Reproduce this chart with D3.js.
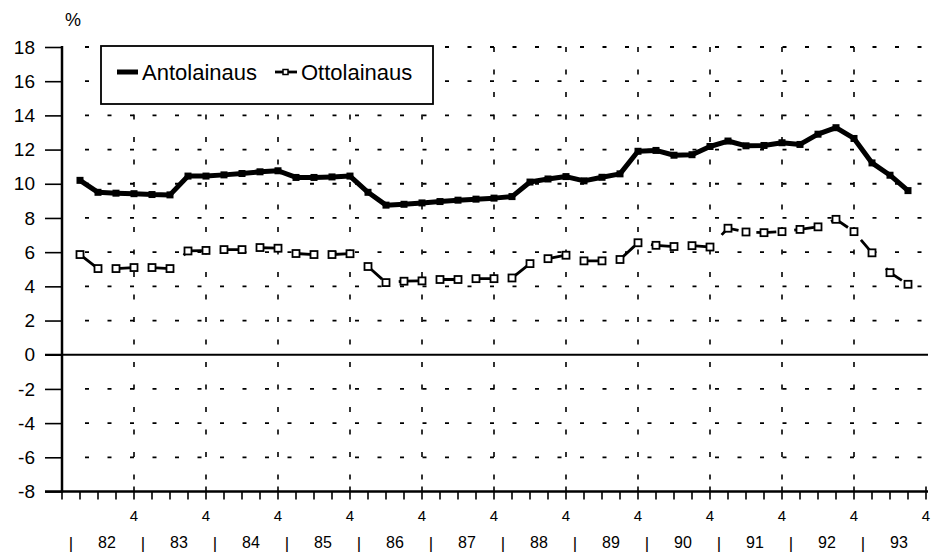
<!DOCTYPE html>
<html>
<head>
<meta charset="utf-8">
<script src="https://cdn.jsdelivr.net/npm/d3@7"></script>
<style>
  body { margin: 0; background: #fff; }
  svg { display: block; }
  text { font-family: "Liberation Sans", Arial, Helvetica, sans-serif; fill: #000; }
</style>
</head>
<body>
<div id="chart"></div>
<script>
// Quarterly data 1982 Q1 .. 1993 Q3
const years = ['82', '83', '84', '85', '86', '87', '88', '89', '90', '91', '92', '93'];
const antolainaus = [
  10.2, 9.5, 9.45, 9.42,
  9.37, 9.35, 10.45, 10.45,
  10.52, 10.6, 10.7, 10.76,
  10.37, 10.37, 10.4, 10.45,
  9.5, 8.75, 8.8, 8.88,
  8.96, 9.04, 9.1, 9.16,
  9.25, 10.1, 10.28, 10.42,
  10.17, 10.38, 10.58, 11.9,
  11.95, 11.67, 11.7, 12.18,
  12.5, 12.22, 12.24, 12.4,
  12.3, 12.9, 13.28, 12.65,
  11.22, 10.5, 9.6
];
const ottolainaus = [
  5.86, 5.04, 5.04, 5.1,
  5.1, 5.04, 6.07, 6.1,
  6.15, 6.15, 6.27, 6.23,
  5.92, 5.86, 5.86, 5.91,
  5.16, 4.22, 4.3, 4.32,
  4.4, 4.4, 4.45, 4.45,
  4.49, 5.33, 5.62, 5.82,
  5.49, 5.49, 5.57, 6.55,
  6.4, 6.33, 6.38, 6.3,
  7.4, 7.18, 7.14, 7.2,
  7.33, 7.48, 7.92, 7.2,
  5.96, 4.8, 4.12
];
const yTicks = [18, 16, 14, 12, 10, 8, 6, 4, 2, 0, -2, -4, -6, -8];
const gridValues = [18, 16, 14, 12, 10, 8, 6, 4, 2, -2, -4, -6];
const quarterLabel = '4';

const W = 934, H = 555;
const svg = d3.select('#chart').append('svg')
  .attr('width', W)
  .attr('height', H);

const nQuarters = years.length * 4;
const x = d3.scaleLinear().domain([0, nQuarters]).range([62, 926]);
const y = d3.scaleLinear().domain([-8, 18]).range([491.5, 47]);

// Dotted grid
svg.append('g').selectAll('line')
  .data(gridValues)
  .enter()
  .append('line')
  .attr('x1', 85).attr('x2', 928)
  .attr('y1', d => y(d)).attr('y2', d => y(d))
  .attr('stroke', '#000')
  .attr('stroke-width', 1.8)
  .attr('stroke-dasharray', '4 18.5');

svg.append('g').selectAll('line')
  .data(d3.range(1, years.length))
  .enter()
  .append('line')
  .attr('x1', d => x(d * 4)).attr('x2', d => x(d * 4))
  .attr('y1', y(18)).attr('y2', y(-8))
  .attr('stroke', '#000')
  .attr('stroke-width', 1.6)
  .attr('stroke-dasharray', '5 17.5');

// Zero line and bottom axis
svg.append('line')
  .attr('x1', 45).attr('x2', 928)
  .attr('y1', y(0)).attr('y2', y(0))
  .attr('stroke', '#000').attr('stroke-width', 2);

svg.append('line')
  .attr('x1', 45).attr('x2', 928)
  .attr('y1', y(-8)).attr('y2', y(-8))
  .attr('stroke', '#000').attr('stroke-width', 2.5);

// Y axis
const yAxis = d3.axisLeft(y)
  .tickValues(yTicks)
  .tickSize(17)
  .tickPadding(10)
  .tickFormat(d => String(d));

const yG = svg.append('g')
  .attr('transform', 'translate(62,0)')
  .call(yAxis);
yG.select('.domain').remove();
yG.selectAll('.tick line').attr('stroke', '#000').attr('stroke-width', 1.6);
yG.selectAll('.tick text')
  .attr('font-size', '19px')
  .attr('fill', '#000')
  .style('font-family', '"Liberation Sans", Arial, Helvetica, sans-serif');

svg.append('line')
  .attr('x1', 62).attr('x2', 62)
  .attr('y1', y(18) - 1).attr('y2', y(-8) + 1)
  .attr('stroke', '#000').attr('stroke-width', 2.5);

svg.append('text')
  .attr('x', 73).attr('y', 26)
  .attr('text-anchor', 'middle')
  .attr('font-size', '18px')
  .text('%');

// Quarter ticks under the axis
svg.append('g').selectAll('line')
  .data(d3.range(0, nQuarters + 1))
  .enter()
  .append('line')
  .attr('x1', d => x(d)).attr('x2', d => x(d))
  .attr('y1', d => d % 4 === 0 && d > 0 ? y(-8) - 5 : y(-8))
  .attr('y2', y(-8) + 8)
  .attr('stroke', '#000')
  .attr('stroke-width', 1.6);

svg.append('g').selectAll('text')
  .data(d3.range(1, years.length + 1))
  .enter()
  .append('text')
  .attr('x', d => x(d * 4))
  .attr('y', 521)
  .attr('text-anchor', 'middle')
  .attr('font-size', '15px')
  .text(quarterLabel);

// Year row: | 82 | 83 | ...
const yearRow = svg.append('g');
years.forEach((yr, i) => {
  yearRow.append('text')
    .attr('x', x(i * 4) + 9)
    .attr('y', 549)
    .attr('text-anchor', 'middle')
    .attr('font-size', '17px')
    .text('|');
  yearRow.append('text')
    .attr('x', x(i * 4 + 2) + 9)
    .attr('y', 548)
    .attr('text-anchor', 'middle')
    .attr('font-size', '16px')
    .text(yr);
});

// Series
const line = d3.line()
  .x((d, i) => x(i + 1))
  .y(d => y(d));

svg.append('path')
  .datum(ottolainaus)
  .attr('d', line)
  .attr('fill', 'none')
  .attr('stroke', '#000')
  .attr('stroke-width', 2.8)
  .attr('stroke-dasharray', '20 18');

svg.append('g').selectAll('rect')
  .data(ottolainaus)
  .enter()
  .append('rect')
  .attr('x', (d, i) => x(i + 1) - 3.5)
  .attr('y', d => y(d) - 3.5)
  .attr('width', 7).attr('height', 7)
  .attr('fill', '#fff')
  .attr('stroke', '#000')
  .attr('stroke-width', 1.8);

svg.append('path')
  .datum(antolainaus)
  .attr('d', line)
  .attr('fill', 'none')
  .attr('stroke', '#000')
  .attr('stroke-width', 5)
  .attr('stroke-linejoin', 'round');

svg.append('g').selectAll('rect')
  .data(antolainaus)
  .enter()
  .append('rect')
  .attr('x', (d, i) => x(i + 1) - 3.5)
  .attr('y', d => y(d) - 3.5)
  .attr('width', 7).attr('height', 7)
  .attr('fill', '#000');

// Legend
const legend = svg.append('g');
legend.append('rect')
  .attr('x', 101).attr('y', 46)
  .attr('width', 332).attr('height', 58)
  .attr('fill', '#fff')
  .attr('stroke', '#000')
  .attr('stroke-width', 1.8);

legend.append('line')
  .attr('x1', 117).attr('x2', 138)
  .attr('y1', 72).attr('y2', 72)
  .attr('stroke', '#000').attr('stroke-width', 5);
legend.append('text')
  .attr('x', 142).attr('y', 80)
  .attr('font-size', '22px')
  .text('Antolainaus');

legend.append('line')
  .attr('x1', 275).attr('x2', 297)
  .attr('y1', 72).attr('y2', 72)
  .attr('stroke', '#000').attr('stroke-width', 2.8);
legend.append('rect')
  .attr('x', 283).attr('y', 69.5)
  .attr('width', 5).attr('height', 5)
  .attr('fill', '#fff')
  .attr('stroke', '#000')
  .attr('stroke-width', 1.5);
legend.append('text')
  .attr('x', 301).attr('y', 80)
  .attr('font-size', '22px')
  .text('Ottolainaus');
</script>
</body>
</html>
